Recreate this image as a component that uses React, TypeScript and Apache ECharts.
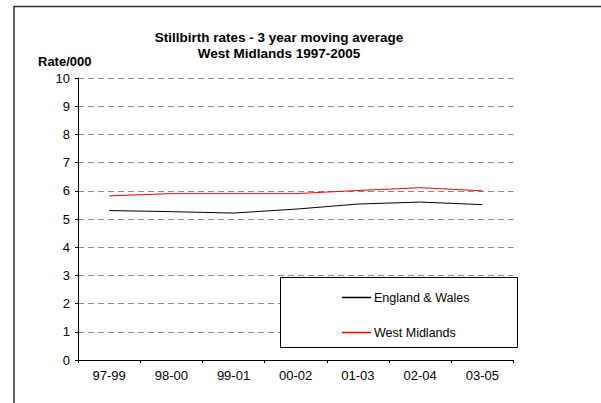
import React, { useEffect, useRef } from "react";
import * as echarts from "echarts";

const categories = ["97-99", "98-00", "99-01", "00-02", "01-03", "02-04", "03-05"];
const englandWales = [5.3, 5.26, 5.21, 5.35, 5.53, 5.6, 5.51];
const westMidlands = [5.82, 5.9, 5.9, 5.9, 6.01, 6.11, 6.0];
const seriesNames = ["England & Wales", "West Midlands"];
const titleLines = ["Stillbirth rates - 3 year moving average", "West Midlands 1997-2005"];
const yAxisTitle = "Rate/000";

const FONT = "Arial, 'Liberation Sans', sans-serif";

export default function App() {
  const ref = useRef<HTMLDivElement>(null);
  useEffect(() => {
    document.body.style.margin = "0";
    const chart = echarts.init(ref.current!, null, { renderer: "svg" });
    chart.setOption({
      animation: false,
      backgroundColor: "#ffffff",
      textStyle: { fontFamily: FONT },
      title: {
        text: titleLines.join("\n"),
        left: 274,
        top: 24,
        textAlign: "center",
        textStyle: { fontSize: 13.5, fontWeight: "bold", color: "#000", lineHeight: 16.6, fontFamily: FONT },
      },
      grid: { left: 78, top: 78, right: 87.6, bottom: 43, containLabel: false },
      xAxis: {
        type: "category",
        data: categories,
        boundaryGap: true,
        axisLine: { lineStyle: { color: "#000", width: 1 } },
        axisTick: { show: true, length: 3, lineStyle: { color: "#000" } },
        axisLabel: { color: "#000", fontSize: 13, margin: 9, fontFamily: FONT },
        splitLine: { show: false },
      },
      yAxis: {
        type: "value",
        min: 0,
        max: 10,
        interval: 1,
        axisLine: { show: true, lineStyle: { color: "#000", width: 1 } },
        axisTick: { show: true, length: 3, lineStyle: { color: "#000" } },
        axisLabel: { color: "#000", fontSize: 13, margin: 8, fontFamily: FONT },
        splitLine: { show: true, lineStyle: { color: "#888", type: [6, 4], width: 1 } },
      },
      legend: {
        orient: "vertical",
        left: 337,
        top: 286,
        icon: "rect",
        itemWidth: 29,
        itemHeight: 1.5,
        itemGap: 22,
        z: 20,
        textStyle: { color: "#000", fontSize: 12.5, fontFamily: FONT, padding: [0, 0, 0, -2] },
        data: seriesNames,
      },
      graphic: [
        {
          type: "rect",
          z: 10,
          shape: { x: 14, y: 6.5, width: 700, height: 500 },
          style: { fill: "none", stroke: "#333", lineWidth: 1.5 },
        },
        {
          type: "rect",
          z: 10,
          shape: { x: 280.5, y: 277.5, width: 237, height: 70 },
          style: { fill: "#fff", stroke: "#000", lineWidth: 1 },
        },
        {
          type: "text",
          z: 10,
          x: 38,
          y: 55,
          style: { text: yAxisTitle, font: `bold 13px ${FONT}`, fill: "#000" },
        },
      ],
      series: [
        {
          name: seriesNames[0],
          type: "line",
          data: englandWales,
          symbol: "none",
          lineStyle: { color: "#000", width: 1 },
          itemStyle: { color: "#000" },
        },
        {
          name: seriesNames[1],
          type: "line",
          data: westMidlands,
          symbol: "none",
          lineStyle: { color: "#ff0000", width: 1 },
          itemStyle: { color: "#ff0000" },
        },
      ],
    });
    return () => chart.dispose();
  }, []);
  return <div ref={ref} style={{ position: "absolute", left: 0, top: 0, width: 601, height: 403 }} />;
}
